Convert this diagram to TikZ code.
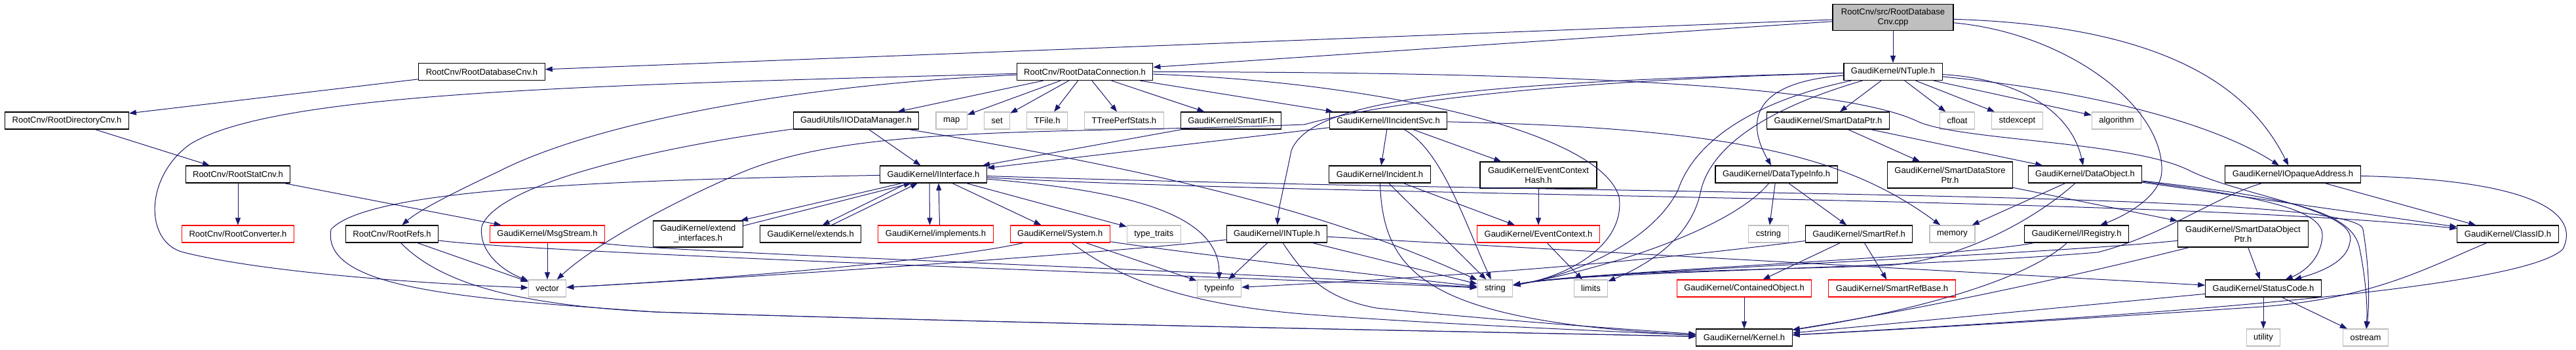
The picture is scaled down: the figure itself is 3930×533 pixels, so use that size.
\documentclass[tikz,border=0pt]{standalone}
\usepackage{fontspec}
\setmainfont{Liberation Sans}
\usetikzlibrary{arrows.meta,positioning}
\definecolor{depline}{HTML}{191970}
\definecolor{sysgrey}{HTML}{BFBFBF}
\definecolor{truncred}{HTML}{FF0000}

\begin{document}
\begin{tikzpicture}[x=1pt,y=-1pt]

\tikzset{inner xsep=11pt,inner ysep=4pt,minimum height=26pt,
font=\fontsize{13}{15}\selectfont,
hdr/.style={draw=black,line width=1.1pt,fill=white},
trunc/.style={draw=truncred,line width=1.1pt,fill=white},
sys/.style={draw=sysgrey,line width=1.1pt,fill=white},
srcfile/.style={draw=black,line width=1.1pt,fill=sysgrey,align=center},
twoline/.style={align=center,minimum height=40pt},
inc/.style={->,>={Triangle[length=11pt,width=8pt]},line width=1pt,depline}}

\useasboundingbox (0,0) rectangle (3930,533);

% Source file
\node[srcfile,twoline,minimum width=184pt] (root) at (2888,26.5) {RootCnv/src/RootDatabase\\Cnv.cpp};

% Direct includes
\node[hdr] (dbcnv) at (735,109.5) {RootCnv/RootDatabaseCnv.h};
\node[hdr] (dconn) at (1655,109.5) {RootCnv/RootDataConnection.h};
\node[hdr] (ntuple) at (2888,109.5) {GaudiKernel/NTuple.h};

% Second row
\node[hdr] (dircnv) at (102,184) {RootCnv/RootDirectoryCnv.h};
\node[hdr] (iodm) at (1306,184) {GaudiUtils/IIODataManager.h};
\node[sys] (map) [right=25pt of iodm] {map};
\node[sys] (set) [right=25pt of map] {set};
\node[sys] (tfile) [right=25pt of set] {TFile.h};
\node[sys] (tperf) [right=25pt of tfile] {TTreePerfStats.h};
\node[hdr] (smartif) [right=25pt of tperf] {GaudiKernel/SmartIF.h};
\node[hdr] (incsvc) at (2118,184) {GaudiKernel/IIncidentSvc.h};
\node[hdr] (sdptr) at (2789,184) {GaudiKernel/SmartDataPtr.h};
\node[sys] (cfloat) at (2986,184) {cfloat};
\node[sys] (stdexc) [right=25pt of cfloat] {stdexcept};
\node[sys] (algo) at (3229,184) {algorithm};

% Third row
\node[hdr] (statcnv) at (363,266) {RootCnv/RootStatCnv.h};
\node[hdr] (iif) at (1424,266) {GaudiKernel/IInterface.h};
\node[hdr] (incident) at (2105,266) {GaudiKernel/Incident.h};
\node[hdr,twoline,minimum width=178pt] (echash) at (2347,267) {GaudiKernel/EventContext\\Hash.h};
\node[hdr] (dtinfo) at (2710,266) {GaudiKernel/DataTypeInfo.h};
\node[hdr,twoline,minimum width=189pt] (sdsptr) at (2975,267) {GaudiKernel/SmartDataStore\\Ptr.h};
\node[hdr] (dobj) at (3181,266) {GaudiKernel/DataObject.h};
\node[hdr] (opaque) at (3498,266) {GaudiKernel/IOpaqueAddress.h};

% Fourth row
\node[trunc] (conv) at (363,357) {RootCnv/RootConverter.h};
\node[hdr] (refs) at (598,357) {RootCnv/RootRefs.h};
\node[trunc] (msg) at (835,357) {GaudiKernel/MsgStream.h};
\node[hdr,twoline,minimum width=135pt] (extif) at (1065,357) {GaudiKernel/extend\\\_interfaces.h};
\node[hdr] (extends) [right=25pt of extif] {GaudiKernel/extends.h};
\node[trunc] (impl) [right=25pt of extends] {GaudiKernel/implements.h};
\node[trunc] (system) [right=25pt of impl] {GaudiKernel/System.h};
\node[sys] (typetr) [right=25pt of system] {type\_traits};
\node[hdr] (intuple) at (1948,357) {GaudiKernel/INTuple.h};
\node[trunc] (ectx) at (2347,357) {GaudiKernel/EventContext.h};
\node[sys] (cstring) at (2698,357) {cstring};
\node[hdr] (smartref) [right=25pt of cstring] {GaudiKernel/SmartRef.h};
\node[sys] (memory) [right=25pt of smartref] {memory};
\node[hdr] (ireg) at (3168,357) {GaudiKernel/IRegistry.h};
\node[hdr,twoline,minimum width=199pt] (sdoptr) at (3422,357) {GaudiKernel/SmartDataObject\\Ptr.h};
\node[hdr] (classid) at (3826,357) {GaudiKernel/ClassID.h};

% Fifth row
\node[sys] (vector) at (835,440) {vector};
\node[sys] (typeinfo) at (1860,440) {typeinfo};
\node[sys] (string) at (2281,440) {string};
\node[sys] (limits) at (2427,440) {limits};
\node[trunc] (contobj) at (2661,440) {GaudiKernel/ContainedObject.h};
\node[trunc] (srbase) [right=25pt of contobj] {GaudiKernel/SmartRefBase.h};
\node[hdr] (statcode) at (3453,440) {GaudiKernel/StatusCode.h};

% Bottom row
\node[hdr] (kernel) at (2661,515) {GaudiKernel/Kernel.h};
\node[sys] (utility) at (3453,515) {utility};
\node[sys] (ostream) at (3609,515) {ostream};

% Arrows: source file
\draw[inc] (root) -- (dbcnv);
\draw[inc] (root) -- (dconn);
\draw[inc] (root) -- (ntuple);
\draw[inc] (root) .. controls (3150,50) and (3300,160) .. (3298,260) .. controls (3298,300) and (3240,330) .. (ireg);
\draw[inc] (root) .. controls (3330,40) and (3440,150) .. (opaque);

% Arrows: converter chain
\draw[inc] (dbcnv) -- (dircnv);
\draw[inc] (dircnv) -- (statcnv);
\draw[inc] (statcnv) -- (conv);
\draw[inc] (statcnv) -- (msg);
\draw[inc] (msg) -- (vector);
\draw[inc] (msg) .. controls (1000,385) and (1800,410) .. (string);
\draw[inc] (refs) -- (vector);
\draw[inc] (refs) .. controls (800,385) and (1800,420) .. (string);
\draw[inc] (refs) .. controls (670,430) and (780,465) .. (1000,476) .. controls (1600,495) and (2200,505) .. (kernel);

% Arrows: RootDataConnection
\draw[inc] (dconn) -- (iodm);
\draw[inc] (dconn) -- (map);
\draw[inc] (dconn) -- (set);
\draw[inc] (dconn) -- (tfile);
\draw[inc] (dconn) -- (tperf);
\draw[inc] (dconn) -- (smartif);
\draw[inc] (dconn) -- (incsvc);
\draw[inc] (dconn) .. controls (900,130) and (420,140) .. (290,220) .. controls (220,270) and (220,370) .. (280,385) .. controls (420,420) and (700,435) .. (vector);
\draw[inc] (dconn) .. controls (1200,130) and (900,190) .. (760,262) .. controls (700,290) and (640,320) .. (refs);
\draw[inc] (dconn) .. controls (2100,125) and (2440,200) .. (2470,300) .. controls (2480,370) and (2400,420) .. (string);
\draw[inc] (dconn) .. controls (2300,110) and (2800,125) .. (2925,185) .. controls (2990,215) and (3250,215) .. (3340,260) .. controls (3420,300) and (3600,320) .. (3585,370) .. controls (3580,400) and (3540,415) .. (statcode);
\draw[inc] (iodm) -- (iif);
\draw[inc] (iodm) .. controls (1000,225) and (760,280) .. (735,345) .. controls (730,380) and (760,410) .. (vector);
\draw[inc] (iodm) .. controls (1700,250) and (2000,310) .. (string);
\draw[inc] (smartif) -- (iif);
\draw[inc] (incsvc) -- (iif);

% Arrows: NTuple
\draw[inc] (ntuple) -- (sdptr);
\draw[inc] (ntuple) -- (cfloat);
\draw[inc] (ntuple) -- (stdexc);
\draw[inc] (ntuple) -- (algo);
\draw[inc] (ntuple) .. controls (2680,125) and (2660,180) .. (dtinfo);
\draw[inc] (ntuple) .. controls (2650,160) and (2580,230) .. (2560,290) .. controls (2520,370) and (2400,420) .. (string);
\draw[inc] (ntuple) .. controls (2680,170) and (2610,230) .. (2595,290) .. controls (2580,370) and (2500,410) .. (limits);
\draw[inc] (ntuple) .. controls (3080,120) and (3160,170) .. (dobj);
\draw[inc] (ntuple) .. controls (3200,140) and (3380,190) .. (opaque);
\draw[inc] (ntuple) .. controls (2250,125) and (2000,150) .. (1970,230) .. controls (1960,280) and (1950,320) .. (intuple);
\draw[inc] (ntuple) .. controls (2300,125) and (2080,165) .. (1990,190) .. controls (1600,205) and (1300,190) .. (1127,265) .. controls (1000,320) and (900,380) .. (vector);

% Arrows: IIncidentSvc
\draw[inc] (incsvc) -- (incident);
\draw[inc] (incsvc) -- (echash);
\draw[inc] (incsvc) .. controls (2200,230) and (2235,340) .. (string);
\draw[inc] (incsvc) .. controls (2650,195) and (2820,240) .. (memory);

% Arrows: IInterface
\draw[inc] ([xshift=-48pt]iif.south) -- ([xshift=-4pt]extif.north east);
\draw[inc] ([yshift=-8pt]extif.north east) -- ([xshift=-34pt]iif.south);
\draw[inc] ([xshift=-40pt]iif.south) -- ([xshift=18pt]extends.north);
\draw[inc] ([xshift=32pt]extends.north) -- ([xshift=-24pt]iif.south);
\draw[inc] ([xshift=-6pt]iif.south) -- ([xshift=-9pt]impl.north);
\draw[inc] ([xshift=6pt]impl.north) -- ([xshift=8pt]iif.south);
\draw[inc] (iif) -- (system);
\draw[inc] (iif) -- (typetr);
\draw[inc] (iif) .. controls (1700,290) and (1860,320) .. (typeinfo);
\draw[inc] (iif) .. controls (2000,300) and (3300,300) .. (classid);
\draw[inc] (iif) .. controls (2500,300) and (3600,290) .. (3605,350) .. controls (3615,410) and (3615,460) .. (ostream);
\draw[inc] (iif) .. controls (900,275) and (560,290) .. (505,350) .. controls (490,440) and (700,455) .. (1000,476) .. controls (1600,495) and (2200,505) .. (kernel);

% Arrows: System, INTuple
\draw[inc] (system) -- (typeinfo);
\draw[inc] (system) .. controls (1800,385) and (2100,420) .. (string);
\draw[inc] (system) .. controls (1480,390) and (1200,420) .. (vector);
\draw[inc] (system) .. controls (1700,420) and (1800,465) .. (2000,480) .. controls (2200,495) and (2450,505) .. (kernel);
\draw[inc] (intuple) -- (typeinfo);
\draw[inc] (intuple) .. controls (1700,385) and (1200,420) .. (vector);
\draw[inc] (intuple) -- (string);
\draw[inc] (intuple) -- (statcode);
\draw[inc] (intuple) .. controls (1990,420) and (2020,455) .. (2100,470) .. controls (2300,490) and (2450,500) .. (kernel);

% Arrows: Incident, DataTypeInfo, SmartRef
\draw[inc] (incident) -- (ectx);
\draw[inc] (incident) -- (string);
\draw[inc] (incident) .. controls (2110,420) and (2180,490) .. (kernel);
\draw[inc] (echash) -- (ectx);
\draw[inc] (ectx) -- (limits);
\draw[inc] (dtinfo) -- (cstring);
\draw[inc] (dtinfo) -- (smartref);
\draw[inc] (dtinfo) .. controls (2640,350) and (2450,410) .. (string);
\draw[inc] (smartref) -- (contobj);
\draw[inc] (smartref) -- (srbase);
\draw[inc] (smartref) .. controls (2500,400) and (2250,420) .. (typeinfo);
\draw[inc] (contobj) -- (kernel);

% Arrows: data store pointers
\draw[inc] (sdptr) -- (sdsptr);
\draw[inc] (sdptr) -- (dobj);
\draw[inc] (sdsptr) -- (sdoptr);
\draw[inc] (dobj) -- (memory);
\draw[inc] (dobj) .. controls (3110,330) and (3000,395) .. (2880,405) .. controls (2700,412) and (2420,414) .. (string);
\draw[inc] (dobj) -- (classid);
\draw[inc] (dobj) .. controls (3450,300) and (3545,320) .. (3543,360) .. controls (3541,395) and (3515,415) .. (statcode);
\draw[inc] (dobj) .. controls (3480,300) and (3590,320) .. (3600,380) .. controls (3610,430) and (3612,470) .. (ostream);
\draw[inc] (opaque) -- (classid);
\draw[inc] (opaque) .. controls (3380,300) and (3300,360) .. (3200,385) .. controls (2900,410) and (2420,414) .. (string);
\draw[inc] (opaque) .. controls (3880,275) and (3935,330) .. (3910,380) .. controls (3850,440) and (3300,480) .. (kernel);
\draw[inc] (ireg) .. controls (3000,392) and (2420,414) .. (string);
\draw[inc] (ireg) .. controls (3100,420) and (2950,470) .. (kernel);
\draw[inc] (sdoptr) -- (statcode);
\draw[inc] (sdoptr) .. controls (3100,390) and (2420,414) .. (string);
\draw[inc] (sdoptr) .. controls (3250,400) and (3000,460) .. (kernel);
\draw[inc] (classid) .. controls (3700,410) and (3620,455) .. (3450,468) .. controls (3200,485) and (2950,500) .. (kernel);
\draw[inc] (statcode) -- (utility);
\draw[inc] (statcode) -- (ostream);
\draw[inc] (statcode) -- (kernel);

\end{tikzpicture}
\end{document}
